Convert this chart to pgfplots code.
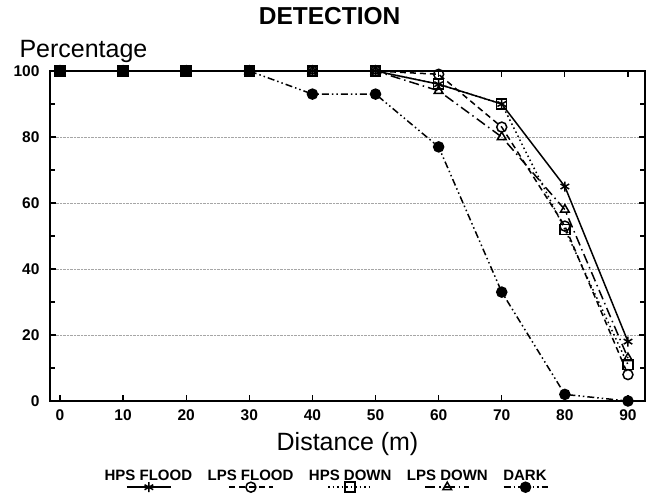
\documentclass[border=0pt]{standalone}
\usepackage{pgfplots}
\pgfplotsset{compat=1.18}
\usepackage{fontspec}
\setmainfont{Liberation Sans}
\usetikzlibrary{calc}
\pgfplotsset{legimg/.style={legend image code/.code={%
  \path (0pt,0pt);
  \draw[overlay,mark repeat=2,mark phase=2] plot coordinates {({#1-22pt},-11pt)({#1},-11pt)({#1+22pt},-11pt)};}}}
\begin{document}
\begin{tikzpicture}
\begin{axis}[name=ax, scale only axis, width=595pt, height=330pt,
  xmin=-1.58, xmax=92.7, ymin=0, ymax=100,
  xtick={0,10,...,90}, ytick={0,20,...,100}, minor ytick={10,30,...,90},
  tick align=inside, major tick length=6pt, minor tick length=5pt,
  tick style={black, line width=1.2pt},
  axis line style={line width=1.8pt},
  ymajorgrids, grid style={densely dotted, gray!70, line width=0.9pt},
  ticklabel style={font=\bfseries\fontsize{15.5}{18}\selectfont},
  /pgf/number format/assume math mode=true,
  xticklabel style={yshift=-5pt},
  yticklabel style={xshift=-7pt},
  clip=false,
  title={DETECTION},
  title style={font=\bfseries\fontsize{24.5}{28}\selectfont, at={(axis description cs:0.47,1)}, anchor=base, yshift=41pt},
  ylabel={Percentage},
  ylabel style={rotate=-90, at={(axis description cs:0,1)}, anchor=base west, xshift=-34pt, yshift=14pt, font=\fontsize{25}{29}\selectfont},
  xlabel={Distance (m)},
  xlabel style={at={(axis description cs:0.5,0)}, anchor=base, yshift=-49pt, font=\fontsize{25}{29}\selectfont},
  legend columns=5,
  legend style={draw=none, fill=none, at={(axis description cs:0.462,0)}, anchor=north, yshift=-66pt,
    font=\bfseries\fontsize{15}{17}\selectfont, nodes={inner sep=1pt},
    /tikz/every even column/.append style={column sep=12pt}},
  every axis plot/.append style={black, line width=1.5pt, mark size=5pt},
]
\addplot[solid, mark=asterisk, mark options={solid}, legimg=46pt] coordinates {
  (0,100) (10,100) (20,100) (30,100) (40,100) (50,100) (60,96) (70,90) (80,65) (90,18)};
\addlegendentry{HPS FLOOD}
\addplot[dash pattern=on 6pt off 4pt, mark=o, mark options={solid}, legimg=45pt] coordinates {
  (0,100) (10,100) (20,100) (30,100) (40,100) (50,100) (60,99) (70,83) (80,53) (90,8)};
\addlegendentry{LPS FLOOD}
\addplot[dash pattern=on 1.5pt off 3pt, mark=square, mark options={solid}, legimg=43pt] coordinates {
  (0,100) (10,100) (20,100) (30,100) (40,100) (50,100) (60,96) (70,90) (80,52) (90,11)};
\addlegendentry{HPS DOWN}
\addplot[dash pattern=on 10pt off 4pt on 1.5pt off 4pt, mark=triangle, mark options={solid}, legimg=42pt] coordinates {
  (0,100) (10,100) (20,100) (30,100) (40,100) (50,100) (60,94) (70,80) (80,58) (90,13)};
\addlegendentry{LPS DOWN}
\addplot[dash pattern=on 7pt off 3pt on 1.5pt off 3pt on 1.5pt off 3pt, mark=*, mark options={solid, fill=black}, legimg=24pt] coordinates {
  (0,100) (10,100) (20,100) (30,100) (40,93) (50,93) (60,77) (70,33) (80,2) (90,0)};
\addlegendentry{DARK}
\end{axis}
\pgfresetboundingbox
\path ($(ax.south west)+(-50pt,-95pt)$) rectangle ($(ax.north east)+(8pt,71pt)$);
\end{tikzpicture}
\end{document}
